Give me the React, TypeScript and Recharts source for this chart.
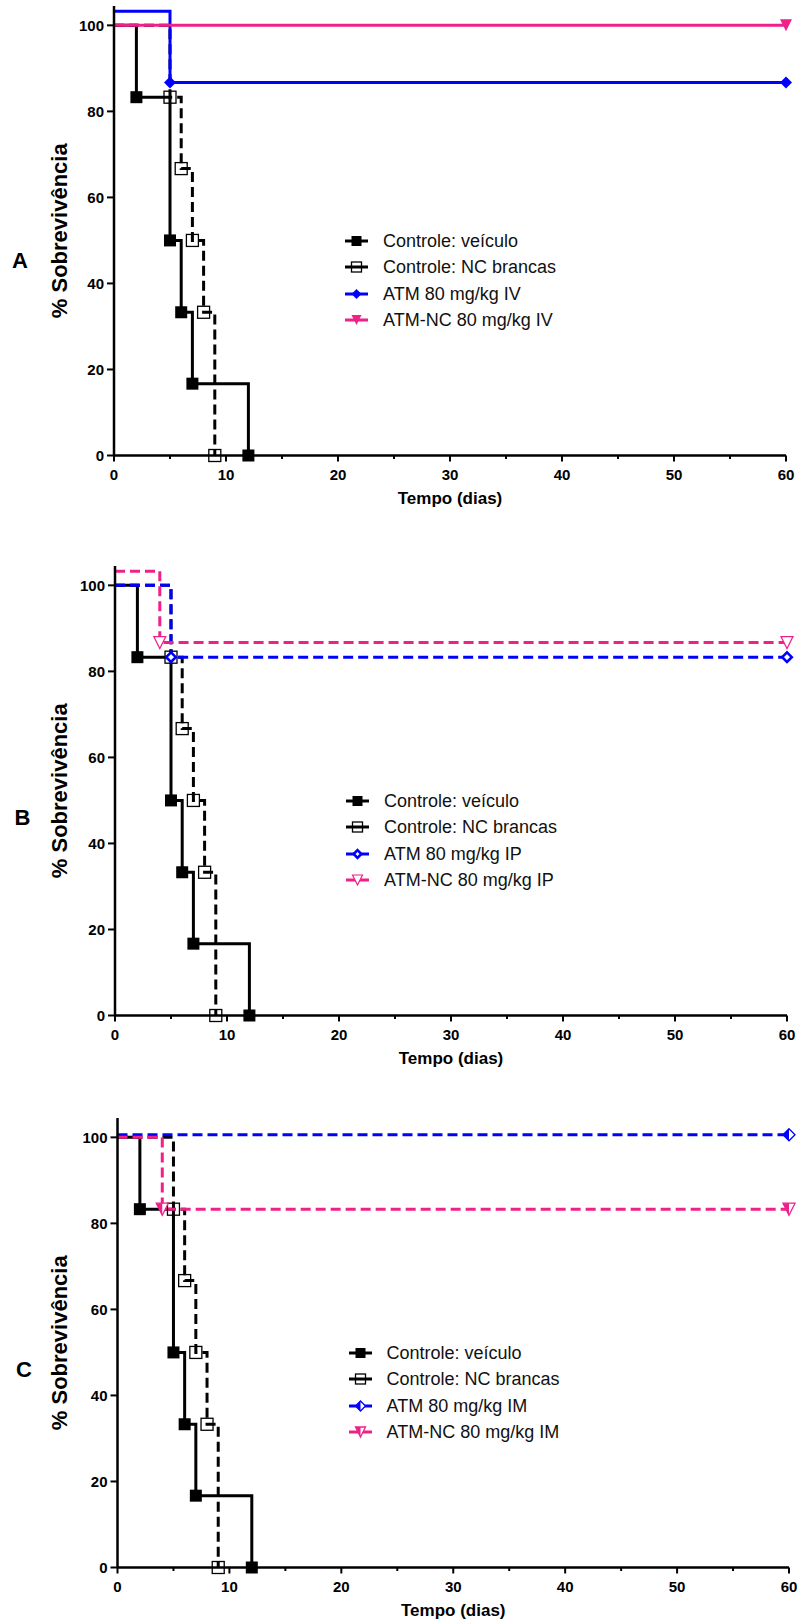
import React from 'react';
import { LineChart, Line, XAxis, YAxis, Legend, Label } from 'recharts';

const FONT = '"Liberation Sans", Arial, Helvetica, sans-serif';
const PINK = '#f0208a';
const BLUE = '#0000ff';
const BLACK = '#000000';

// tempo (dias) / % sobrevivência
const veiculoDias = [0, 2, 5, 6, 7, 12];
const veiculoSobr = [100, 83.3, 50, 33.3, 16.7, 0];
const brancasDias = [0, 5, 6, 7, 8, 9];
const brancasSobr = [100, 83.3, 66.7, 50, 33.3, 0];

const atmIVDias = [0, 5, 60];
const atmIVSobr = [103.3, 86.7, 86.7];
const atmNcIVDias = [0, 60];
const atmNcIVSobr = [100, 100];

const atmIPDias = [0, 5, 60];
const atmIPSobr = [100, 83.3, 83.3];
const atmNcIPDias = [0, 4, 60];
const atmNcIPSobr = [103.3, 86.7, 86.7];

const atmIMDias = [0, 60];
const atmIMSobr = [100.6, 100.6];
const atmNcIMDias = [0, 4, 60];
const atmNcIMSobr = [100, 83.3, 83.3];

const xTicks = [0, 5, 10, 15, 20, 25, 30, 35, 40, 45, 50, 55, 60];
const yTicks = [0, 20, 40, 60, 80, 100];

const X_TICK_SIZE = 6;
const X_TICK_MARGIN = 3;
const PLOT_H = 449.5;
const MT = 4;

type MarkKind = 'square' | 'squareOpen' | 'diamond' | 'diamondOpen' | 'diamondHalf' | 'triDown' | 'triDownOpen' | 'triDownHalf';

interface Serie { name: string; dias: number[]; sobr: number[]; color: string; dash?: string; mark: MarkKind; }

const toData = (dias: number[], sobr: number[]) => dias.map((t, i) => ({ t, s: sobr[i] }));

const Marker = ({ kind, cx, cy, color, s }: { kind: MarkKind; cx: number; cy: number; color: string; s: number }) => {
    const h = s / 2;
    const diamond = `M${cx},${cy - h} L${cx + h},${cy} L${cx},${cy + h} L${cx - h},${cy} Z`;
    const tri = `M${cx - h},${cy - h} L${cx + h},${cy - h} L${cx},${cy + h} Z`;
    switch (kind) {
        case 'square': return <rect x={cx - h} y={cy - h} width={s} height={s} fill={color} />;
        case 'squareOpen': return <rect x={cx - h} y={cy - h} width={s} height={s} fill="none" stroke={color} strokeWidth={1.3} />;
        case 'diamond': return <path d={diamond} fill={color} />;
        case 'diamondOpen': {
            const k = h - 1.2;
            return <path d={`M${cx},${cy - k} L${cx + k},${cy} L${cx},${cy + k} L${cx - k},${cy} Z`} fill="#fff" stroke={color} strokeWidth={2.6} />;
        }
        case 'diamondHalf': return (
            <g>
                <path d={diamond} fill="#fff" stroke={color} strokeWidth={1.3} />
                <path d={`M${cx},${cy - h} L${cx},${cy + h} L${cx - h},${cy} Z`} fill={color} />
            </g>
        );
        case 'triDown': return <path d={tri} fill={color} />;
        case 'triDownOpen': return <path d={tri} fill="#fff" stroke={color} strokeWidth={1.2} />;
        case 'triDownHalf': return (
            <g>
                <path d={tri} fill="#fff" stroke={color} strokeWidth={1.3} />
                <path d={`M${cx - h},${cy - h} L${cx},${cy - h} L${cx},${cy + h} Z`} fill={color} />
            </g>
        );
    }
    return null;
};

const veiculo: Serie = { name: 'Controle: veículo', dias: veiculoDias, sobr: veiculoSobr, color: BLACK, mark: 'square' };
const brancas: Serie = { name: 'Controle: NC brancas', dias: brancasDias, sobr: brancasSobr, color: BLACK, dash: '10 5', mark: 'squareOpen' };

const panels = [
    {
        letter: 'A', top: 6.3, left: 114, right: 786, height: 512, letterX: 20, letterY: 261.7,
        series: [veiculo, brancas,
            { name: 'ATM 80 mg/kg IV', dias: atmIVDias, sobr: atmIVSobr, color: BLUE, mark: 'diamond' } as Serie,
            { name: 'ATM-NC 80 mg/kg IV', dias: atmNcIVDias, sobr: atmNcIVSobr, color: PINK, mark: 'triDown' } as Serie],
    },
    {
        letter: 'B', top: 566.3, left: 115, right: 787, height: 512, letterX: 22.5, letterY: 258.7,
        series: [veiculo, brancas,
            { name: 'ATM 80 mg/kg IP', dias: atmIPDias, sobr: atmIPSobr, color: BLUE, dash: '10 5', mark: 'diamondOpen' } as Serie,
            { name: 'ATM-NC 80 mg/kg IP', dias: atmNcIPDias, sobr: atmNcIPSobr, color: PINK, dash: '10 5', mark: 'triDownOpen' } as Serie],
    },
    {
        letter: 'C', top: 1118, left: 117.5, right: 789, height: 508, letterX: 24, letterY: 259,
        series: [veiculo, brancas,
            { name: 'ATM 80 mg/kg IM', dias: atmIMDias, sobr: atmIMSobr, color: BLUE, dash: '10 5', mark: 'diamondHalf' } as Serie,
            { name: 'ATM-NC 80 mg/kg IM', dias: atmNcIMDias, sobr: atmNcIMSobr, color: PINK, dash: '10 5', mark: 'triDownHalf' } as Serie],
    },
];

const XTick = (props: any) => {
    const { x, y, payload } = props;
    const axisY = y - X_TICK_SIZE - X_TICK_MARGIN;
    const major = payload.value % 10 === 0;
    return (
        <g>
            <line x1={x} x2={x} y1={axisY} y2={axisY + (major ? 6 : 3.5)} stroke="#000" strokeWidth={2} />
            {major && <text x={x} y={axisY + 24.4} textAnchor="middle" fontFamily={FONT} fontWeight={700} fontSize={15} fill="#000">{payload.value}</text>}
        </g>
    );
};

const LegendBox = ({ series }: { series: Serie[] }) => (
    <div style={{ fontFamily: FONT, fontSize: 18, color: '#111' }}>
        {series.map(s => (
            <div key={s.name} style={{ display: 'flex', alignItems: 'center', height: 26.5 }}>
                <svg width={23} height={16} style={{ flex: 'none' }}>
                    <line x1={0} x2={23} y1={8} y2={8} stroke={s.color} strokeWidth={3} />
                    <Marker kind={s.mark} cx={11.5} cy={8} color={s.color} s={10} />
                </svg>
                <span style={{ marginLeft: 15, whiteSpace: 'nowrap', lineHeight: 1 }}>{s.name}</span>
            </div>
        ))}
    </div>
);

const Panel = ({ p }: { p: typeof panels[number] }) => {
    const W = 799;
    const bottom = p.height - MT - PLOT_H - 50;
    return (
        <div style={{ position: 'absolute', left: 0, top: p.top - MT }}>
            <LineChart width={W} height={p.height} margin={{ top: MT, right: W - p.right, left: 0, bottom }}>
                <XAxis type="number" dataKey="t" domain={[0, 60]} ticks={xTicks} interval={0} height={50}
                    axisLine={{ stroke: '#000', strokeWidth: 2.5 }} tickLine={false}
                    tickSize={X_TICK_SIZE} tickMargin={X_TICK_MARGIN} tick={XTick}>
                    <Label content={(lp: any) => {
                        const vb = lp.viewBox;
                        return <text x={vb.x + vb.width / 2} y={vb.y + 48} textAnchor="middle" fontFamily={FONT} fontWeight={700} fontSize={17} fill="#000">Tempo (dias)</text>;
                    }} />
                </XAxis>
                <YAxis type="number" domain={[0, 104.5]} ticks={yTicks} interval={0} width={p.left}
                    axisLine={{ stroke: '#000', strokeWidth: 2.5 }} tickLine={{ stroke: '#000', strokeWidth: 2 }}
                    tickSize={7} tickMargin={3}
                    tick={{ fill: '#000', fontSize: 15, fontWeight: 700, fontFamily: FONT }}>
                    <Label content={(lp: any) => {
                        const vb = lp.viewBox;
                        const cy = vb.y + vb.height / 2;
                        return (
                            <g>
                                <text x={66.5} y={cy} transform={`rotate(-90, 66.5, ${cy})`} textAnchor="middle" fontFamily={FONT} fontWeight={700} fontSize={22} fill="#000">% Sobrevivência</text>
                                <text x={p.letterX} y={vb.y + p.letterY} textAnchor="middle" fontFamily={FONT} fontWeight={700} fontSize={22} fill="#000">{p.letter}</text>
                            </g>
                        );
                    }} />
                </YAxis>
                <Legend layout="vertical" align="center" verticalAlign="middle"
                    wrapperStyle={{ left: p.left + 231, top: MT + 234.6 - 13.25, width: 'auto', height: 'auto' }}
                    content={() => <LegendBox series={p.series} />} />
                {p.series.map(s => (
                    <Line key={s.name} data={toData(s.dias, s.sobr)} dataKey="s" type="stepAfter"
                        stroke={s.color} strokeWidth={3} strokeDasharray={s.dash}
                        dot={(dp: any) => dp.index === 0
                            ? <g key={`${s.name}-${dp.index}`} />
                            : <g key={`${s.name}-${dp.index}`}><Marker kind={s.mark} cx={dp.cx} cy={dp.cy} color={s.color} s={12} /></g>}
                        activeDot={false} isAnimationActive={false} />
                ))}
            </LineChart>
        </div>
    );
};

export default function App() {
    return (
        <div style={{ position: 'absolute', left: 0, top: 0 }}>
            {panels.map(p => <Panel key={p.letter} p={p} />)}
        </div>
    );
}
